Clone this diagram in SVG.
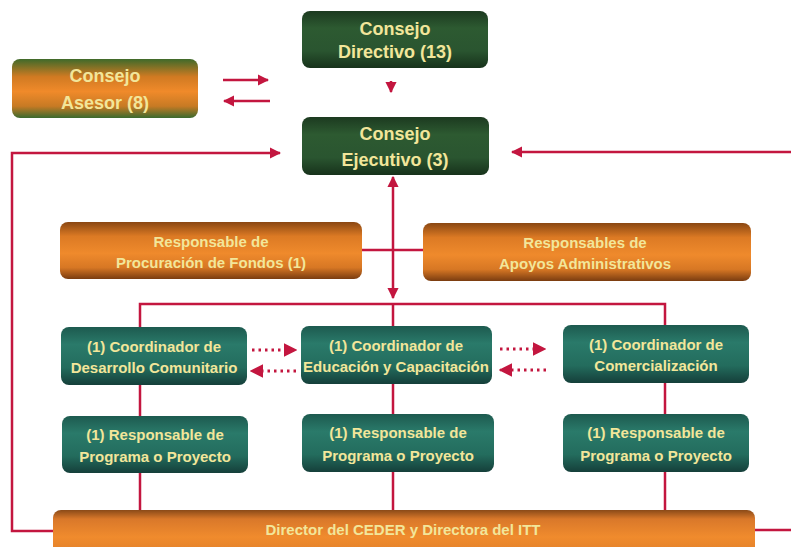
<svg xmlns="http://www.w3.org/2000/svg" width="791" height="547" viewBox="0 0 791 547">
<defs>
<linearGradient id="gDark" x1="0" y1="0" x2="0" y2="1">
<stop offset="0" stop-color="#1c3a20"/><stop offset="0.3" stop-color="#2d5a31"/><stop offset="0.7" stop-color="#2a5530"/><stop offset="1" stop-color="#17321b"/>
</linearGradient>
<linearGradient id="gAses" x1="0" y1="0" x2="0" y2="1">
<stop offset="0" stop-color="#3f6a2a"/><stop offset="0.3" stop-color="#d07a22"/><stop offset="0.55" stop-color="#f08a2a"/><stop offset="0.8" stop-color="#c77a24"/><stop offset="1" stop-color="#3a6a2e"/>
</linearGradient>
<linearGradient id="gOrange" x1="0" y1="0" x2="0" y2="1">
<stop offset="0" stop-color="#8a4712"/><stop offset="0.25" stop-color="#dc7a24"/><stop offset="0.55" stop-color="#ef8a2c"/><stop offset="0.8" stop-color="#d77724"/><stop offset="1" stop-color="#7a3c10"/>
</linearGradient>
<linearGradient id="gTeal" x1="0" y1="0" x2="0" y2="1">
<stop offset="0" stop-color="#1d5a4f"/><stop offset="0.3" stop-color="#2a7a6a"/><stop offset="0.7" stop-color="#236c5d"/><stop offset="1" stop-color="#153f3a"/>
</linearGradient>
<linearGradient id="gBar" x1="0" y1="0" x2="0" y2="1">
<stop offset="0" stop-color="#8a4a18"/><stop offset="0.2" stop-color="#d9782a"/><stop offset="0.6" stop-color="#f08b2d"/><stop offset="1" stop-color="#e07f2a"/>
</linearGradient>
<marker id="ah" viewBox="0 0 10 10" refX="9" refY="5" markerWidth="4.5" markerHeight="4.5" orient="auto-start-reverse">
<path d="M0,0 L10,5 L0,10 z" fill="#c3163f"/>
</marker>
</defs>
<style>
.t{font-family:"Liberation Sans",Arial,sans-serif;font-weight:bold;fill:#f2e69a;text-anchor:middle}
.big{font-size:18px}
.mid{font-size:15px}
.sm{font-size:15px}
.ln{stroke:#c3163f;stroke-width:2.5;fill:none}
.dot{stroke:#c3163f;stroke-width:3;fill:none;stroke-dasharray:2.5 4;stroke-linecap:butt}
</style>
<rect width="791" height="547" fill="#ffffff"/>
<g id="connectors">
<line class="ln" x1="223" y1="80" x2="268" y2="80" marker-end="url(#ah)"/>
<line class="ln" x1="270" y1="101" x2="224" y2="101" marker-end="url(#ah)"/>
<line class="ln" x1="391" y1="81" x2="391" y2="92" marker-end="url(#ah)"/>
<polyline class="ln" points="54,531 12,531 12,153 280,153" marker-end="url(#ah)"/>
<polyline class="ln" points="791,152 512,152" marker-end="url(#ah)"/>
<line class="ln" x1="755" y1="530" x2="791" y2="530"/>
<line class="ln" x1="393" y1="177" x2="393" y2="298" marker-start="url(#ah)" marker-end="url(#ah)"/>
<line class="ln" x1="362" y1="250" x2="423" y2="250"/>
<polyline class="ln" points="140,327 140,304 665,304 665,325"/>
<line class="ln" x1="393" y1="304" x2="393" y2="326"/>
<line class="ln" x1="140" y1="385" x2="140" y2="416"/>
<line class="ln" x1="393" y1="384" x2="393" y2="414"/>
<line class="ln" x1="665" y1="383" x2="665" y2="414"/>
<line class="ln" x1="140" y1="473" x2="140" y2="510"/>
<line class="ln" x1="393" y1="472" x2="393" y2="510"/>
<line class="ln" x1="665" y1="472" x2="665" y2="510"/>
<line class="dot" x1="252" y1="350" x2="296" y2="350" marker-end="url(#ah)"/>
<line class="dot" x1="296" y1="371" x2="251" y2="371" marker-end="url(#ah)"/>
<line class="dot" x1="500" y1="349" x2="545" y2="349" marker-end="url(#ah)"/>
<line class="dot" x1="546" y1="370" x2="500" y2="370" marker-end="url(#ah)"/>
</g>
<g id="consejo-directivo">
<rect x="302" y="11" width="186" height="57" rx="8" fill="url(#gDark)"/>
<text class="t big" x="395" y="35">Consejo</text>
<text class="t big" x="395" y="58">Directivo (13)</text>
</g>
<g id="consejo-asesor">
<rect x="12" y="59" width="186" height="59" rx="8" fill="url(#gAses)"/>
<text class="t big" x="105" y="82">Consejo</text>
<text class="t big" x="105" y="109">Asesor (8)</text>
</g>
<g id="consejo-ejecutivo">
<rect x="302" y="117" width="187" height="58" rx="8" fill="url(#gDark)"/>
<text class="t big" x="395" y="140">Consejo</text>
<text class="t big" x="395" y="166">Ejecutivo (3)</text>
</g>
<g id="procuracion">
<rect x="60" y="222" width="302" height="57" rx="8" fill="url(#gOrange)"/>
<text class="t mid" x="211" y="247">Responsable de</text>
<text class="t mid" x="211" y="268">Procuración de Fondos (1)</text>
</g>
<g id="apoyos">
<rect x="423" y="223" width="328" height="58" rx="8" fill="url(#gOrange)"/>
<text class="t mid" x="585" y="248">Responsables de</text>
<text class="t mid" x="585" y="269">Apoyos Administrativos</text>
</g>
<g id="coord-desarrollo">
<rect x="61" y="327" width="186" height="58" rx="8" fill="url(#gTeal)"/>
<text class="t mid" x="154" y="352">(1) Coordinador de</text>
<text class="t mid" x="154" y="373">Desarrollo Comunitario</text>
</g>
<g id="coord-educacion">
<rect x="301" y="326" width="191" height="58" rx="8" fill="url(#gTeal)"/>
<text class="t mid" x="396" y="351">(1) Coordinador de</text>
<text class="t mid" x="396" y="372">Educación y Capacitación</text>
</g>
<g id="coord-comercializacion">
<rect x="563" y="325" width="186" height="58" rx="8" fill="url(#gTeal)"/>
<text class="t mid" x="656" y="350">(1) Coordinador de</text>
<text class="t mid" x="656" y="371">Comercialización</text>
</g>
<g id="resp-1">
<rect x="62" y="416" width="186" height="57" rx="8" fill="url(#gTeal)"/>
<text class="t mid" x="155" y="440">(1) Responsable de</text>
<text class="t mid" x="155" y="462">Programa o Proyecto</text>
</g>
<g id="resp-2">
<rect x="302" y="414" width="192" height="58" rx="8" fill="url(#gTeal)"/>
<text class="t mid" x="398" y="438">(1) Responsable de</text>
<text class="t mid" x="398" y="461">Programa o Proyecto</text>
</g>
<g id="resp-3">
<rect x="563" y="414" width="186" height="58" rx="8" fill="url(#gTeal)"/>
<text class="t mid" x="656" y="438">(1) Responsable de</text>
<text class="t mid" x="656" y="461">Programa o Proyecto</text>
</g>
<g id="director">
<rect x="53" y="510" width="702" height="45" rx="8" fill="url(#gBar)"/>
<text class="t sm" x="403" y="535">Director del CEDER y Directora del ITT</text>
</g>
</svg>
